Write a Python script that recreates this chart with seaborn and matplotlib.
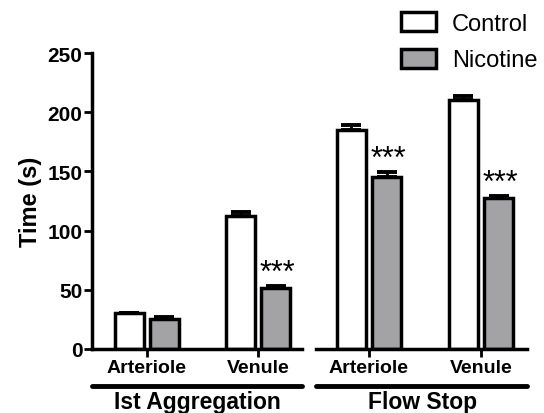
import pandas as pd
import numpy as np
import seaborn as sns
import matplotlib.pyplot as plt

# values
groups = ['Ist Aggregation', 'Flow Stop']
sites = ['Arteriole', 'Venule']
treatments = ['Control', 'Nicotine']
control_mean = [30, 112, 185, 210]
control_sem = [0.6, 3.5, 4, 4]
nicotine_mean = [25.5, 51.5, 145.5, 127.5]
nicotine_sem = [1.2, 1.5, 4, 1.5]
signif = [False, True, True, True]  # nicotine bars marked ***

rows = []
k = 0
for g in groups:
    for s in sites:
        rows.append([g, s, 'Control', control_mean[k], control_sem[k], False])
        rows.append([g, s, 'Nicotine', nicotine_mean[k], nicotine_sem[k], signif[k]])
        k += 1
df = pd.DataFrame(rows, columns=['group', 'site', 'treatment', 'time', 'sem', 'star'])

sns.set_style("ticks")
plt.rcParams['font.family'] = ['Liberation Sans', 'DejaVu Sans']
for key in ['text.color', 'axes.labelcolor', 'xtick.color', 'ytick.color', 'axes.edgecolor']:
    plt.rcParams[key] = 'black'

gray = '#a3a3a6'
lw = 2.5

fig = plt.figure(figsize=(5.44, 4.14), dpi=100)
bottom = 1 - 350 / 414
height = (350 - 54) / 414
ax1 = fig.add_axes([92 / 544, bottom, (302 - 92) / 544, height])
ax2 = fig.add_axes([316 / 544, bottom, (538 - 316) / 544, height])

xlims = [(-0.495, 1.396), (-0.473, 1.51)]
for ax, g, xl in zip([ax1, ax2], groups, xlims):
    sub = df[df.group == g]
    sns.barplot(data=sub, x='site', y='time', hue='treatment', order=sites,
                hue_order=treatments, palette={'Control': 'white', 'Nicotine': gray},
                edgecolor='black', linewidth=lw, width=0.63, gap=0.17,
                errorbar=None, ax=ax)
    # upper error bars and stars
    for cont, t in zip(ax.containers, treatments):
        st = sub[sub.treatment == t].set_index('site').loc[sites]
        xs = [b.get_x() + b.get_width() / 2 for b in cont]
        ax.errorbar(xs, st['time'], yerr=[np.zeros(len(xs)), st['sem']],
                    fmt='none', ecolor='black', elinewidth=2, capsize=7.5,
                    capthick=2.8, zorder=1)
        for x, v, e, s in zip(xs, st['time'], st['sem'], st['star']):
            if s:
                ax.text(x + 0.02, v + e - 1.5, '***', ha='center', va='bottom',
                        fontsize=22)
    ax.legend_.remove()
    ax.set_xlim(*xl)
    ax.set_ylim(0, 250)
    ax.set_xlabel('')
    ax.set_facecolor('none')
    for side in ['top', 'right']:
        ax.spines[side].set_visible(False)
    ax.spines['bottom'].set_linewidth(lw)
    ax.spines['left'].set_linewidth(lw)
    ax.tick_params(axis='x', length=6, width=2, labelsize=14, pad=1)
    for lab in ax.get_xticklabels():
        lab.set_fontweight('bold')
    # group line and label under the axis
    ax.plot([0, 1], [-0.124, -0.124], transform=ax.transAxes, color='black',
            lw=3.5, solid_capstyle='round', clip_on=False)
    ax.text(0.5, -0.178, g, transform=ax.transAxes, ha='center', va='center',
            fontsize=16.5, fontweight='bold')

ax2.spines['bottom'].set_bounds(-0.473, 1.41)
ax2.lines[-1].set_xdata([0, 0.95])
ax2.texts[-1].set_x(0.48)

ax1.set_yticks(range(0, 251, 50))
ax1.tick_params(axis='y', length=6, width=2, labelsize=15, pad=1)
for lab in ax1.get_yticklabels():
    lab.set_fontweight('bold')
ax1.set_ylabel('Time (s)', fontsize=17, fontweight='bold', labelpad=4)

ax2.spines['left'].set_visible(False)
ax2.set_yticks([])
ax2.set_ylabel('')

handles = ax2.containers
fig.legend([c[0] for c in handles], treatments, loc='upper left',
           bbox_to_anchor=(401 / 544, 1 - 13 / 414), frameon=False,
           fontsize=17, borderpad=0, borderaxespad=0, handlelength=1.5,
           handleheight=0.85, handletextpad=0.65, labelspacing=0.6)

fig.savefig('out.png', dpi=100)
